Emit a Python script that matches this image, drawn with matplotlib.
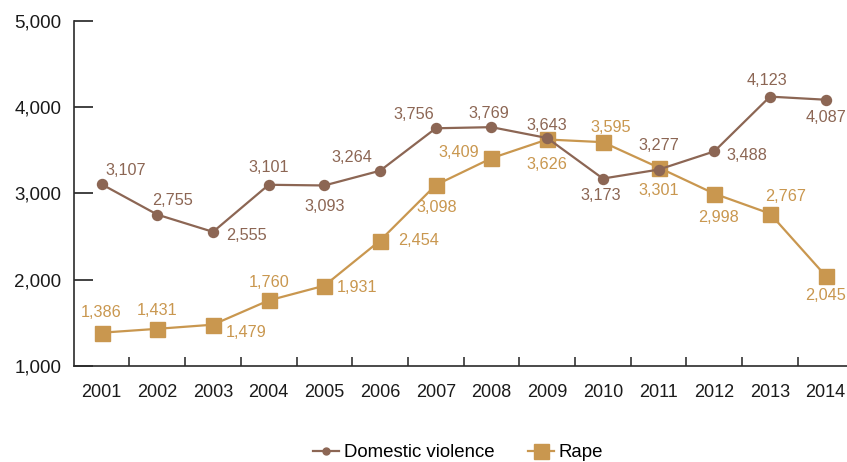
import matplotlib
matplotlib.use("Agg")
from matplotlib import pyplot as plt
from matplotlib.lines import Line2D

plt.rcParams['font.family'] = ['Liberation Sans', 'DejaVu Sans']

years = ['2001', '2002', '2003', '2004', '2005', '2006', '2007',
         '2008', '2009', '2010', '2011', '2012', '2013', '2014']
domestic = [3107, 2755, 2555, 3101, 3093, 3264, 3756,
            3769, 3643, 3173, 3277, 3488, 4123, 4087]
rape = [1386, 1431, 1479, 1760, 1931, 2454, 3098,
        3409, 3626, 3595, 3301, 2998, 2767, 2045]

# label offsets in pixels (dx, dy) relative to each marker
dv_offsets = [(24, 14), (15, 14), (33, -4), (0, 17), (0, -21), (-28, 13), (-22, 14),
              (-3, 14), (0, 13), (-2, -17), (0, 24), (33, -4), (-3, 16), (0, -18)]
rape_offsets = [(0, 20), (0, 18), (33, -8), (0, 18), (33, -2), (38, 0), (1, -22),
                (-33, 6), (0, -25), (8, 15), (0, -23), (4, -24), (16, 17), (0, -20)]

dv_color = '#8c6654'
rape_color = '#c9974f'
axis_color = '#2b2b2b'

fig = plt.figure(figsize=(8.47, 4.62), dpi=100)
ax = fig.add_axes([0.0871, 0.2078, 0.9206, 0.7468])

x = range(len(years))
ax.plot(x, rape, color=rape_color, lw=1.6, marker='s', ms=10.8, zorder=3)
ax.plot(x, domestic, color=dv_color, lw=1.6, marker='o', ms=7.2, zorder=4)

for i, v in enumerate(domestic):
    ax.annotate(f'{v:,}', (i, v), xytext=dv_offsets[i], textcoords='offset pixels',
                ha='center', va='center', fontsize=11.7, color=dv_color, zorder=5)
for i, v in enumerate(rape):
    ax.annotate(f'{v:,}', (i, v), xytext=rape_offsets[i], textcoords='offset pixels',
                ha='center', va='center', fontsize=11.7, color=rape_color, zorder=5)

ax.set_xlim(-0.5, len(years) - 0.5)
ax.set_ylim(1000, 5000)
ax.set_yticks([1000, 2000, 3000, 4000, 5000])
ax.set_yticklabels(['1,000', '2,000', '3,000', '4,000', '5,000'])
ax.set_xticks(list(x))
ax.set_xticklabels(years)
ax.set_xticks([i + 0.5 for i in range(len(years) - 1)], minor=True)

ax.tick_params(axis='y', direction='in', length=13.7, width=1.3, color='#333333',
               labelsize=13.5, pad=9, labelcolor='#1a1a1a')
ax.tick_params(axis='x', which='major', length=0, labelsize=13, pad=13, labelcolor='#1a1a1a')
ax.tick_params(axis='x', which='minor', direction='in', length=6.5, width=1.2, color='#333333')

for s in ['top', 'right']:
    ax.spines[s].set_visible(False)
for s in ['left', 'bottom']:
    ax.spines[s].set_color(axis_color)
    ax.spines[s].set_linewidth(1.2)

handles = [Line2D([], [], color=dv_color, lw=1.6, marker='o', ms=5),
           Line2D([], [], color=rape_color, lw=1.6, marker='s', ms=10.8)]
fig.legend(handles, ['Domestic violence', 'Rape'], loc='center', ncol=2,
           bbox_to_anchor=(0.541, 0.02), frameon=False, fontsize=13.4,
           handlelength=1.4, handletextpad=0.25, columnspacing=1.8)

fig.savefig('out.png', dpi=100)
